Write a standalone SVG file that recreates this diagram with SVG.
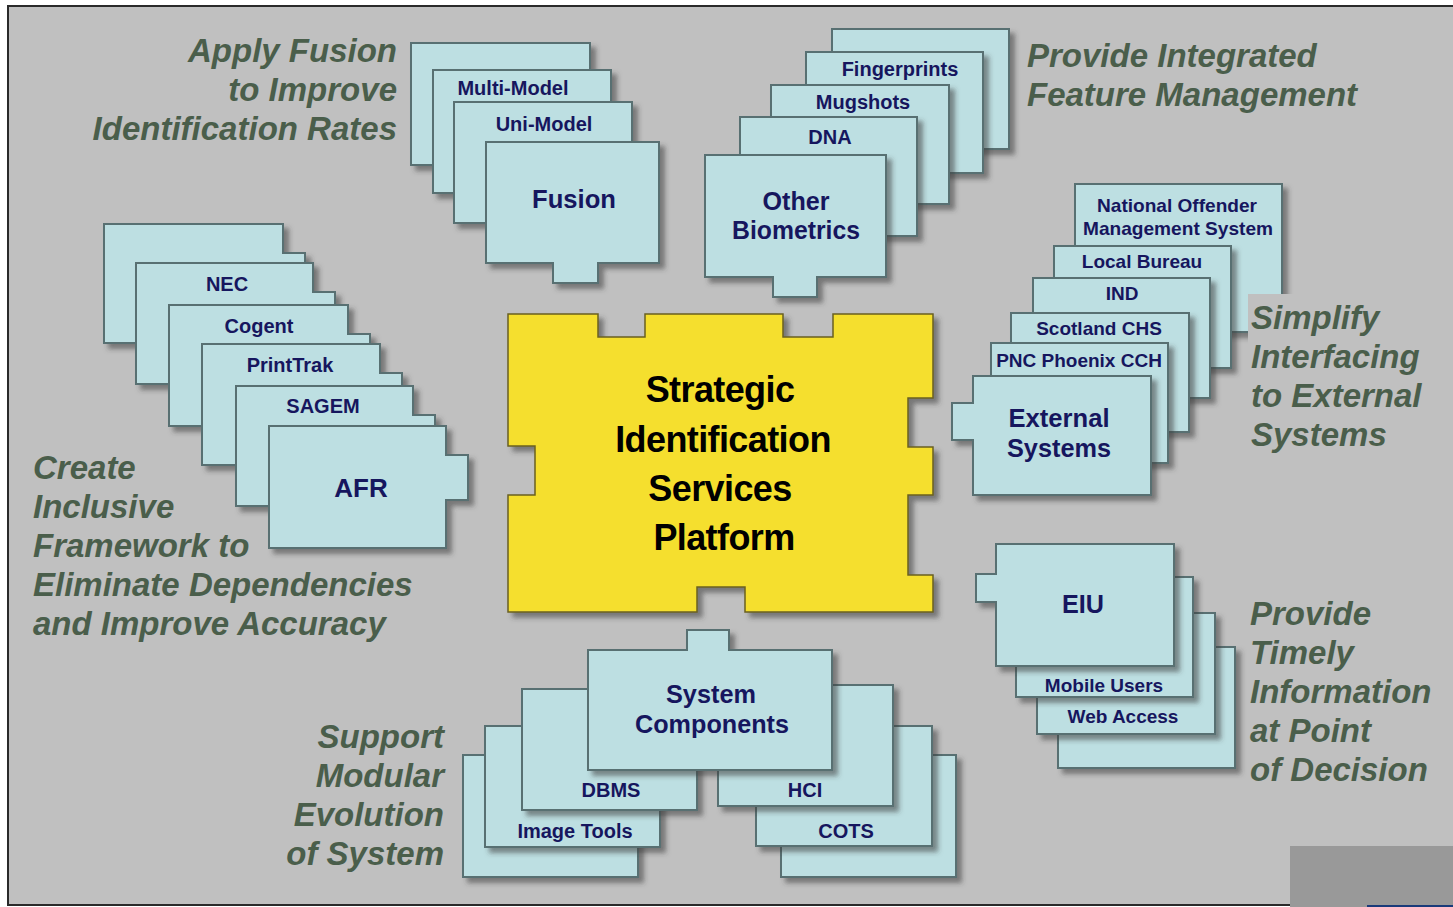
<svg xmlns="http://www.w3.org/2000/svg" width="1453" height="907" viewBox="0 0 1453 907">
<defs>
<filter id="sh" x="-10%" y="-10%" width="130%" height="130%">
<feDropShadow dx="5" dy="5" stdDeviation="2.5" flood-color="#3a3a3a" flood-opacity="0.55"/>
</filter>
<style>
.b{fill:#bddfe2;stroke:#587072;stroke-width:2;filter:url(#sh)}
.p{fill:#f5df2f;stroke:#6a6020;stroke-width:1.5;filter:url(#sh)}
.t{font-family:"Liberation Sans",Arial,sans-serif;font-weight:bold;fill:#16165e;text-anchor:middle;font-size:20px}
.t19{font-size:19px}
.tb{font-size:26px}
.c{font-family:"Liberation Sans",Arial,sans-serif;font-weight:bold;fill:#000;text-anchor:middle;font-size:36px;letter-spacing:-0.6px}
.l{font-family:"Liberation Sans",Arial,sans-serif;font-weight:bold;font-style:italic;fill:#4a5e4b;font-size:33px}
.r{text-anchor:end}
</style>
</defs>
<rect x="0" y="0" width="1453" height="907" fill="#ffffff"/>
<rect x="8" y="6" width="1447" height="899" fill="#c0c0c0" stroke="#2a2a2a" stroke-width="2"/>
<rect x="1290" y="846" width="163" height="61" fill="#999999"/>
<rect x="1367" y="905" width="86" height="2" fill="#1a3a7a"/>

<g id="labels">
<text class="l r" x="397" y="62">Apply Fusion</text>
<text class="l r" x="397" y="101">to Improve</text>
<text class="l r" x="397" y="140">Identification Rates</text>
<text class="l" x="1027" y="67">Provide Integrated</text>
<text class="l" x="1027" y="106">Feature Management</text>
<text class="l" x="33" y="479">Create</text>
<text class="l" x="33" y="518">Inclusive</text>
<text class="l" x="33" y="557">Framework to</text>
<text class="l" x="33" y="596">Eliminate Dependencies</text>
<text class="l" x="33" y="635">and Improve Accuracy</text>
<text class="l" x="1250" y="625">Provide</text>
<text class="l" x="1250" y="664">Timely</text>
<text class="l" x="1250" y="703">Information</text>
<text class="l" x="1250" y="742">at Point</text>
<text class="l" x="1250" y="781">of Decision</text>
<text class="l r" x="444" y="748">Support</text>
<text class="l r" x="444" y="787">Modular</text>
<text class="l r" x="444" y="826">Evolution</text>
<text class="l r" x="444" y="865">of System</text>
</g>

<g id="connectors"></g>

<g id="fusion-stack">
<rect class="b" x="411" y="43" width="179" height="122"/>
<rect class="b" x="433" y="70" width="178" height="123"/>
<text class="t" x="513" y="95">Multi-Model</text>
<rect class="b" x="454" y="102" width="178" height="121"/>
<text class="t" x="544" y="131">Uni-Model</text>
</g>
<g id="fusion">
<path class="b" d="M486,142 H659 V263 H598 V283 H553 V263 H486 Z"/>
<text class="t tb" x="574" y="208" textLength="84" lengthAdjust="spacingAndGlyphs">Fusion</text>
</g>

<g id="biometrics-stack">
<rect class="b" x="832" y="29" width="177" height="120"/>
<rect class="b" x="806" y="52" width="177" height="121"/>
<text class="t" x="900" y="76">Fingerprints</text>
<rect class="b" x="771" y="85" width="178" height="119"/>
<text class="t" x="863" y="109">Mugshots</text>
<rect class="b" x="740" y="117" width="177" height="119"/>
<text class="t" x="830" y="144">DNA</text>
</g>
<g id="other-biometrics">
<path class="b" d="M705,155 H886 V277 H817 V297 H773 V277 H705 Z"/>
<text class="t tb" x="796" y="210" textLength="67" lengthAdjust="spacingAndGlyphs">Other</text>
<text class="t tb" x="796" y="239" textLength="128" lengthAdjust="spacingAndGlyphs">Biometrics</text>
</g>

<g id="external-stack">
<rect class="b" x="1075" y="184" width="207" height="148"/>
<text class="t t19" x="1177" y="212" textLength="160" lengthAdjust="spacingAndGlyphs">National Offender</text>
<text class="t t19" x="1178" y="235" textLength="190" lengthAdjust="spacingAndGlyphs">Management System</text>
<rect class="b" x="1054" y="246" width="177" height="122"/>
<text class="t t19" x="1142" y="268">Local Bureau</text>
<rect class="b" x="1033" y="278" width="177" height="120"/>
<text class="t t19" x="1122" y="300">IND</text>
<rect class="b" x="1011" y="313" width="178" height="119"/>
<text class="t t19" x="1099" y="335">Scotland CHS</text>
<rect class="b" x="991" y="343" width="177" height="120"/>
<text class="t t19" x="1079" y="367">PNC Phoenix CCH</text>
</g>
<rect x="1248" y="294" width="185" height="162" fill="#c0c0c0"/>
<g id="labels-right">
<text class="l" x="1251" y="329">Simplify</text>
<text class="l" x="1251" y="368">Interfacing</text>
<text class="l" x="1251" y="407">to External</text>
<text class="l" x="1251" y="446">Systems</text>
</g>
<g id="external-systems">
<path class="b" d="M973,376 H1151 V495 H973 V440 H952 V403 H973 Z"/>
<text class="t tb" x="1059" y="427" textLength="101" lengthAdjust="spacingAndGlyphs">External</text>
<text class="t tb" x="1059" y="457" textLength="104" lengthAdjust="spacingAndGlyphs">Systems</text>
</g>

<g id="afr-stack">
<path class="b" d="M104,224 H283 V253 H305 V298 H283 V343 H104 Z"/>
<path class="b" d="M136,263 H313 V292 H335 V337 H313 V384 H136 Z"/>
<text class="t" x="227" y="291">NEC</text>
<path class="b" d="M169,305 H348 V334 H370 V379 H348 V426 H169 Z"/>
<text class="t" x="259" y="333">Cogent</text>
<path class="b" d="M202,344 H380 V373 H402 V418 H380 V465 H202 Z"/>
<text class="t" x="290" y="372">PrintTrak</text>
<path class="b" d="M236,386 H413 V415 H435 V460 H413 V506 H236 Z"/>
<text class="t" x="323" y="413">SAGEM</text>
</g>
<g id="afr">
<path class="b" d="M269,426 H446 V455 H468 V500 H446 V548 H269 Z"/>
<text class="t tb" x="361" y="497">AFR</text>
</g>

<g id="platform">
<path class="p" d="M508,314 H598 V337 H645 V314 H783 V337 H833 V314 H933 V398 H908 V447 H933 V495 H908 V575 H933 V612 H745 V587 H697 V612 H508 V495 H535 V446 H508 Z"/>
<text class="c" x="720" y="402">Strategic</text>
<text class="c" x="723" y="452">Identification</text>
<text class="c" x="720" y="501">Services</text>
<text class="c" x="724" y="550">Platform</text>
</g>

<g id="components-stack">
<rect class="b" x="463" y="755" width="175" height="122"/>
<rect class="b" x="781" y="755" width="175" height="122"/>
<rect class="b" x="485" y="726" width="175" height="121"/>
<text class="t" x="575" y="838">Image Tools</text>
<rect class="b" x="756" y="726" width="176" height="120"/>
<text class="t" x="846" y="838">COTS</text>
<rect class="b" x="522" y="689" width="175" height="121"/>
<text class="t" x="611" y="797">DBMS</text>
<rect class="b" x="718" y="685" width="175" height="121"/>
<text class="t" x="805" y="797">HCI</text>
</g>
<g id="system-components">
<path class="b" d="M588,650 H687 V630 H729 V650 H832 V770 H588 Z"/>
<text class="t tb" x="711" y="703" textLength="90" lengthAdjust="spacingAndGlyphs">System</text>
<text class="t tb" x="712" y="733" textLength="154" lengthAdjust="spacingAndGlyphs">Components</text>
</g>

<g id="eiu-stack">
<rect class="b" x="1058" y="647" width="177" height="121"/>
<rect class="b" x="1037" y="613" width="178" height="121"/>
<text class="t t19" x="1123" y="723">Web Access</text>
<rect class="b" x="1016" y="577" width="177" height="120"/>
<text class="t t19" x="1104" y="692">Mobile Users</text>
</g>
<g id="eiu">
<path class="b" d="M996,544 H1174 V666 H996 V602 H976 V574 H996 Z"/>
<text class="t tb" x="1083" y="613" textLength="42" lengthAdjust="spacingAndGlyphs">EIU</text>
</g>
</svg>
